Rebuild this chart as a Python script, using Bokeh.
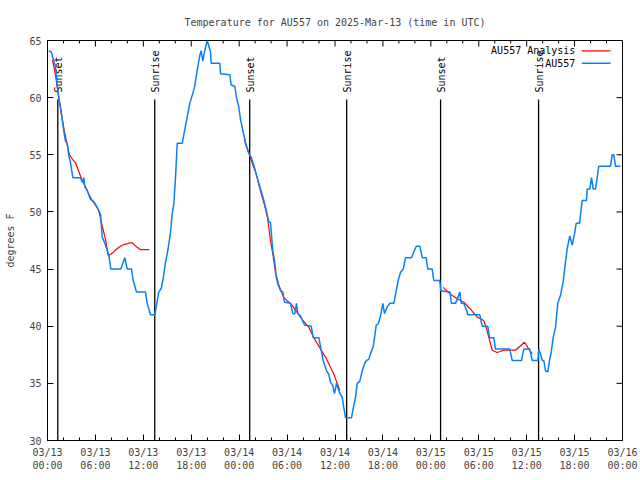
import math
from bokeh.plotting import figure
from bokeh.models import FixedTicker, Range1d
from bokeh.core.properties import value
from bokeh.embed import file_html
from bokeh.resources import INLINE

# ---------------- data (hours since 2025-03-13 00:00 UTC, degrees F) ----------------
obs_hours = [0.16, 0.46, 0.71, 1.0, 1.21, 1.41, 1.63, 1.84, 2.04, 2.25, 2.47, 2.67, 2.88, 3.17,
             4.13, 4.35, 4.55, 4.67, 4.97, 5.38, 5.80, 6.22, 6.64, 6.85, 7.26, 7.68, 7.93,
             9.18, 9.68, 9.98, 10.52, 10.73, 11.14, 12.27, 12.48, 12.90, 13.44, 13.74, 13.94,
             14.24, 14.49, 14.78, 15.11, 15.40, 15.61, 15.82, 16.03, 16.24, 16.87, 17.16, 17.49,
             17.82, 18.12, 18.41, 18.75, 19.07, 19.25, 19.45, 19.66, 20.0, 20.41, 20.50, 21.58,
             21.66, 22.83, 23.0, 23.45, 23.67, 23.95, 24.17, 24.46, 24.79, 25.21, 25.51, 25.83,
             26.26, 26.67, 27.09, 27.51, 27.71, 27.92, 28.21, 28.46, 28.64, 28.89, 29.18, 29.46,
             29.68, 30.43, 30.72, 30.97, 31.18, 31.34, 31.68, 32.18, 33.02, 33.27, 33.97, 34.27,
             34.52, 34.94, 35.22, 35.44, 35.72, 35.94, 36.19, 36.56, 36.90, 37.10, 37.32, 38.07,
             38.28, 38.57, 38.78, 39.11, 39.41, 39.69, 39.94, 40.23, 40.45, 40.78, 40.95, 41.16,
             41.41, 41.70, 41.99, 42.20, 42.54, 42.86, 43.36, 43.66, 43.91, 44.20, 44.54, 44.83,
             45.58, 45.87, 46.17, 46.62, 46.92, 47.42, 47.62, 48.17, 48.37, 49.12, 49.25, 50.38,
             50.59, 51.09, 51.38, 51.63, 51.80, 52.13, 52.47, 52.63, 54.13, 54.43, 55.13, 55.35,
             55.89, 56.10, 57.89, 58.19, 59.35, 59.64, 60.39, 60.69, 61.40, 61.52, 61.73, 61.95,
             62.15, 62.36, 62.65, 62.86, 63.07, 63.32, 63.61, 63.90, 64.24, 64.57, 64.86, 65.08,
             65.40, 65.70, 65.99, 66.20, 66.62, 66.95, 67.49, 67.58, 67.91, 68.12, 68.33, 68.62,
             68.83, 69.03, 70.50, 70.71, 70.91, 71.12, 71.75]
obs_temps = [64.1, 64, 63.4, 62.7, 61.1, 60, 59.2, 58.1, 57.1, 56.2, 56, 54.9, 54.3, 53,
             53, 52.6, 53, 52.2, 51.9, 51.1, 50.9, 50.4, 49.8, 47.8, 47.1, 46.2, 45,
             45, 46, 45, 45, 44, 43, 43, 42, 41, 41, 42.2, 43,
             43.3, 44.2, 45.6, 46.8, 48.2, 49.8, 50.7, 53, 56, 56, 57.1, 58.3,
             59.5, 60.2, 60.9, 62.4, 63.7, 64.1, 63.2, 64, 65, 64, 63, 63,
             62.1, 62, 61.1, 61, 60, 59.2, 58.1, 57.1, 56.1, 55.1, 54.8, 54.1,
             53, 52, 51, 49.8, 49.1, 49.1, 46.6, 45.6, 44.3, 43.6, 43.1, 43,
             42.1, 42, 41.1, 41.1, 42, 41.1, 40.9, 40.1, 40, 39, 39, 37.9,
             37, 36.1, 35.8, 35.1, 34.8, 34.1, 35, 34.2, 33.8, 32.9, 32, 32,
             32.8, 33.8, 35, 35.2, 36.1, 36.7, 37, 37.1, 37.6, 38.2, 39, 40.1,
             40.2, 40.9, 42, 41.1, 41.7, 42, 42, 43.1, 44, 44.7, 45, 46,
             46, 46.5, 47, 47, 46, 46, 45, 45, 44, 44, 43.1, 43,
             42, 42, 42.5, 43, 42, 42, 41.4, 41, 41, 40, 40, 39,
             39, 38, 38, 37, 37, 38, 38, 37, 37, 38, 37.6, 37,
             37, 36.1, 36, 37, 37.7, 39, 39.9, 42, 42.7, 43.9, 45.6, 46.8,
             47.9, 47.1, 48.1, 49, 49, 51, 51, 52, 52, 53, 52, 52,
             53, 54, 54, 55, 55, 54, 54]

nan = float("nan")
ana_hours = [0.63, 1.0, 1.38, 1.75, 2.13, 2.50, 2.75, 3.13, 3.51, 3.88, 4.26, 4.76, 5.13, 5.60,
             6.01, 6.42, 6.85, 7.26, 7.60, 7.89, 8.30, 8.73, 9.14, 9.55, 9.98, 10.27, 10.61,
             10.89, 11.23, 11.65, 12.73, nan,
             24.63, 24.92, 25.30, 25.67, 26.05, 26.42, 26.80, 27.17, 27.55, 27.92, 28.24, 28.55,
             28.96, 29.30, 29.59, 30.05, 30.43, 31.05, 31.89, 32.72, 33.35, 34.18, 34.81, 35.44,
             35.85, 36.28, 36.60, nan,
             49.55, 50.46, 51.30, 52.13, 52.96, 53.80, 54.63, 54.97, 55.38, 55.68, 56.31, 57.14,
             58.60, 59.73, 60.27, 60.69]
ana_temps = [63.3, 62, 60.2, 58.5, 57, 55.8, 55, 54.6, 54.3, 53.6, 52.9, 52.2, 51.6, 51,
             50.6, 50.1, 48.8, 47.6, 46.2, 46.3, 46.5, 46.8, 47, 47.15, 47.2, 47.3, 47.3,
             47.1, 46.9, 46.7, 46.7, nan,
             56.4, 55.7, 55, 54.2, 53.5, 52.5, 51.5, 50.6, 49.5, 47.5, 46.2, 44.7,
             43.6, 43.0, 42.5, 42.2, 42, 41.4, 40.6, 39.9, 39.0, 38.0, 37.3, 36.4,
             35.8, 35, 34.4, nan,
             43.4, 42.8, 42.4, 42.1, 41.5, 40.8, 40.5, 39.8, 38.7, 37.9, 37.7, 37.9,
             37.9, 38.6, 38.0, 37.6]

sun_hours = [1.29, 13.43, 25.32, 37.46, 49.22, 61.49]
sun_labels = ["Sunset", "Sunrise", "Sunset", "Sunrise", "Sunset", "Sunrise"]

tick_hours = [0, 6, 12, 18, 24, 30, 36, 42, 48, 54, 60, 66, 72]
tick_labels = ["03/13\n00:00", "03/13\n06:00", "03/13\n12:00", "03/13\n18:00",
               "03/14\n00:00", "03/14\n06:00", "03/14\n12:00", "03/14\n18:00",
               "03/15\n00:00", "03/15\n06:00", "03/15\n12:00", "03/15\n18:00",
               "03/16\n00:00"]
minor_hours = [h for h in range(0, 73, 2) if h % 6 != 0]
y_ticks = [30, 35, 40, 45, 50, 55, 60, 65]

FONT = "DejaVu Sans Mono"
FS = "10px"
BLUE = "#0a80f5"
RED = "#ff0000"

X0, X1, Y0, Y1 = 0, 72, 30, 65
W, H = 640, 480
BL, BR, BT, BB = 47, 18, 40, 40
px_x = (X1 - X0) / (W - BL - BR)   # hours per pixel
px_y = (Y1 - Y0) / (H - BT - BB)   # degrees per pixel

p = figure(width=W, height=H, output_backend="svg", toolbar_location=None,
           x_range=Range1d(X0, X1), y_range=Range1d(Y0, Y1),
           min_border_left=BL, min_border_right=BR, min_border_top=BT, min_border_bottom=BB)
p.title.text = "Temperature for AU557 on 2025-Mar-13 (time in UTC)"
p.title.align = "center"
p.title.text_font = FONT
p.title.text_font_size = FS
p.title.text_font_style = "normal"
p.title.standoff = 25

p.grid.visible = False
p.outline_line_color = "black"
p.outline_line_width = 1
p.background_fill_color = "white"
p.border_fill_color = "white"

xa = p.xaxis[0]
xa.ticker = FixedTicker(ticks=tick_hours, minor_ticks=minor_hours)
xa.major_label_overrides = {t: l for t, l in zip(tick_hours, tick_labels)}
xa.major_label_standoff = 6
ya = p.yaxis[0]
ya.ticker = FixedTicker(ticks=y_ticks, minor_ticks=[])
ya.axis_label = "degrees F"
ya.axis_label_text_font_style = "normal"
ya.axis_label_standoff = 10
ya.major_label_standoff = 6

for ax in (xa, ya):
    ax.major_label_text_font = FONT
    ax.major_label_text_font_size = FS
    ax.axis_label_text_font = FONT
    ax.axis_label_text_font_size = FS
    ax.major_tick_in = 6
    ax.major_tick_out = 0
    ax.minor_tick_in = 3
    ax.minor_tick_out = 0
    ax.axis_line_color = "black"

# mirrored ticks on the top and right edges (gnuplot style)
top_major = [h for h in tick_hours if 0 < h < 72]
p.segment(x0=top_major, y0=[Y1] * len(top_major), x1=top_major,
          y1=[Y1 - 6 * px_y] * len(top_major), line_color="black", line_width=1)
p.segment(x0=minor_hours, y0=[Y1] * len(minor_hours), x1=minor_hours,
          y1=[Y1 - 3 * px_y] * len(minor_hours), line_color="black", line_width=1)
right_major = [v for v in y_ticks if Y0 < v < Y1]
p.segment(x0=[X1] * len(right_major), y0=right_major, x1=[X1 - 6 * px_x] * len(right_major),
          y1=right_major, line_color="black", line_width=1)

# sunrise / sunset markers
p.segment(x0=sun_hours, y0=[Y0] * len(sun_hours), x1=sun_hours, y1=[59.83] * len(sun_hours),
          line_color="black", line_width=1.3)
p.text(x=sun_hours, y=[60.45] * len(sun_hours), text=sun_labels, angle=math.pi / 2,
       text_align="left", text_baseline="middle", x_offset=1,
       text_font=value(FONT), text_font_size=FS, text_color="black")

# data lines
p.line(ana_hours, ana_temps, line_color=RED, line_width=1.2)
p.line(obs_hours, obs_temps, line_color=BLUE, line_width=1.5)

# gnuplot-style legend (label left, sample right)
p.text(x=[66.1, 66.1], y=[64.1, 63.0], text=["AU557 Analysis", "AU557"],
       text_align="right", text_baseline="middle",
       text_font=value(FONT), text_font_size=FS, text_color="black")
p.segment(x0=[66.9], y0=[64.1], x1=[70.5], y1=[64.1], line_color=RED, line_width=1.2)
p.segment(x0=[66.9], y0=[63.0], x1=[70.5], y1=[63.0], line_color=BLUE, line_width=1.5)

open("out.html", "w").write(file_html(p, INLINE))
